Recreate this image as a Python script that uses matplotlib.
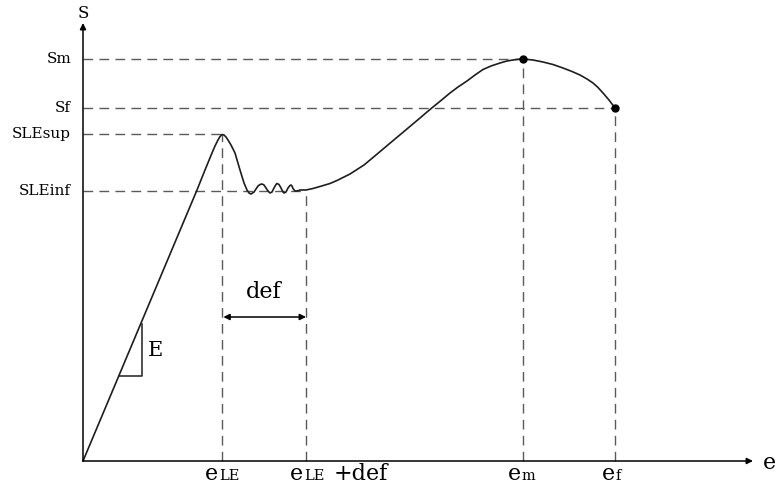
import matplotlib
matplotlib.use("Agg")
import matplotlib.pyplot as plt

# strain / stress curve (arbitrary units)
strain = [0, 114, 122, 129, 132, 135, 137, 139, 141, 143, 145, 148, 152, 157,
          161, 164, 166, 168, 171, 173, 175, 177, 179, 181, 183, 185, 187, 189,
          191, 193, 194, 196, 198, 200, 201, 203, 205, 207, 208, 209, 210, 212,
          214, 217, 223, 230, 237, 247, 254, 260, 267, 274, 281, 287, 295, 304,
          312, 320, 329, 337, 344, 350, 358, 367, 375, 384, 392, 400, 408, 417,
          424, 430, 435, 440, 450, 460, 470, 480, 489, 497, 504, 510, 515, 520,
          526, 532]
stress = [0, 271, 291, 308, 315, 321, 324.5, 326.5, 326, 324, 321, 316, 308, 291,
          278, 271, 268, 267, 269, 272, 275, 276.5, 277, 276, 273, 270, 268, 269,
          273, 276.5, 277.5, 276.5, 273, 269, 268, 269, 273, 275.5, 276, 275, 272.5, 270,
          270, 271, 271, 272.5, 274.5, 277.5, 280.5, 283.5, 287, 291.5, 296, 301, 307.7, 315.3,
          322, 328.7, 336.3, 343, 349, 354, 360.5, 368, 374, 380, 386, 391.5, 395, 398,
          400, 401, 401.7, 402, 401, 399, 396.5, 393, 389.5, 386, 382, 378, 373.5, 368,
          361, 353]

# characteristic levels
s_levels = [402, 353, 327, 270]
s_labels = ["Sm", "Sf", "SLEsup", "SLEinf"]
s_reach = [440, 532, 139, 223]          # where each dashed line stops

e_levels = [139, 223, 440, 532]
e_reach = [327, 270, 402, 353]
e_main = ["e", "e", "e", "e"]
e_sub = ["LE", "LE", "m", "f"]
e_tail = ["", "+def", "", ""]

marker_e = [440, 532]
marker_s = [402, 353]

tri_x = [36, 59, 59]
tri_y = [85, 85, 137]

def_y = 144

SERIF = "DejaVu Serif"
DASH = dict(color="#5a5a5a", lw=1.0, linestyle=(0, (7, 4.5)))

fig = plt.figure(figsize=(7.76, 4.86), dpi=100)
ax = fig.add_axes([0, 0, 1, 1])
ax.set_xlim(-83, 693)
ax.set_ylim(-25, 461)
ax.axis("off")

# axes with arrows
arrow = dict(arrowstyle="-|>", lw=1.1, color="black", mutation_scale=9,
             shrinkA=0, shrinkB=0)
ax.annotate("", xy=(0, 438), xytext=(0, 0), arrowprops=arrow)
ax.annotate("", xy=(670, 0), xytext=(0, 0), arrowprops=arrow)
ax.text(0, 447, "S", family=SERIF, fontsize=12, ha="center", va="center")
ax.text(680, -2, "e", family=SERIF, fontsize=16, ha="left", va="center")

# guide lines
for s, reach, lab in zip(s_levels, s_reach, s_labels):
    ax.plot([0, reach], [s, s], **DASH)
    ax.text(-12, s, lab, family=SERIF, fontsize=11, ha="right", va="center")

splits = [-4, -3, -2, 0]
for e, reach, m, sub, tail, sp in zip(e_levels, e_reach, e_main, e_sub, e_tail, splits):
    ax.plot([e, e], [0, reach], **DASH)
    ax.annotate(m, xy=(e, -19), xytext=(sp, 0), textcoords="offset pixels",
                family=SERIF, fontsize=16, ha="right", va="baseline")
    ax.annotate(sub, xy=(e, -19), xytext=(sp + 1, 0), textcoords="offset pixels",
                family=SERIF, fontsize=10.5, ha="left", va="baseline")
    if tail:
        ax.annotate(tail, xy=(e, -19), xytext=(sp + 31, 0), textcoords="offset pixels",
                    family=SERIF, fontsize=16, ha="left", va="baseline")

# curve
ax.plot(strain, stress, color="#1e1e1e", lw=1.2, solid_joinstyle="round")
ax.plot(marker_e, marker_s, "o", color="black", ms=5)

# modulus triangle
ax.plot(tri_x, tri_y, color="#1e1e1e", lw=1.1)
ax.text(tri_x[1] + 6, (tri_y[0] + tri_y[2]) / 2, "E", family=SERIF,
        fontsize=15, ha="left", va="center")

# def span arrow
ax.annotate("", xy=(e_levels[1], def_y), xytext=(e_levels[0], def_y),
            arrowprops=dict(arrowstyle="<|-|>", lw=1.1, color="black",
                            mutation_scale=9, shrinkA=1, shrinkB=0))
ax.text((e_levels[0] + e_levels[1]) / 2, def_y + 25, "def", family=SERIF,
        fontsize=16, ha="center", va="center")

fig.savefig("out.png", dpi=100)
